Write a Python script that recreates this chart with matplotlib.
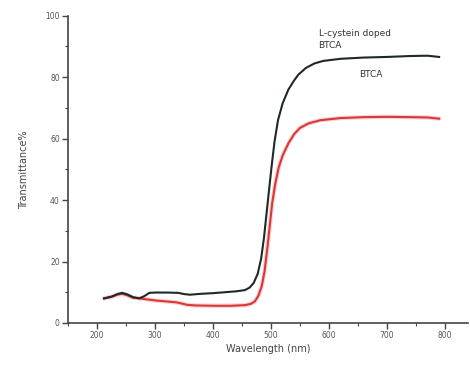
import matplotlib
matplotlib.use("Agg")
import matplotlib.pyplot as plt
from matplotlib.ticker import MultipleLocator

wl_doped = [212, 225, 235, 243, 252, 262, 273, 282, 290, 300, 320, 340, 350, 360, 380, 400, 420, 440, 455, 463, 470, 477, 483, 488, 493, 497, 501, 506, 512, 520, 530, 540, 547, 560, 575, 590, 620, 660, 700, 740, 770, 790]
t_doped = [8.0, 8.6, 9.4, 9.8, 9.3, 8.4, 8.0, 8.8, 9.8, 9.9, 9.9, 9.8, 9.4, 9.2, 9.5, 9.7, 10.0, 10.3, 10.7, 11.5, 13.0, 16.0, 21.0, 28.0, 37.0, 44.0, 51.0, 59.0, 66.0, 71.5, 76.0, 79.0, 80.8, 83.0, 84.5, 85.3, 86.0, 86.4, 86.6, 86.9, 87.0, 86.6]

wl_btca = [212, 225, 235, 243, 252, 262, 273, 285, 302, 320, 337, 347, 355, 370, 400, 430, 455, 465, 472, 478, 484, 489, 494, 498, 502, 507, 513, 520, 530, 540, 550, 565, 585, 620, 660, 700, 740, 770, 790]
t_btca = [8.0, 8.5, 9.2, 9.5, 9.0, 8.2, 8.0, 7.7, 7.3, 7.0, 6.7, 6.3, 5.9, 5.7, 5.6, 5.6, 5.8, 6.2, 7.0, 8.8, 12.0, 17.0, 25.0, 32.0, 39.0, 45.0, 50.5, 54.5, 58.5, 61.5, 63.5, 65.0, 66.0, 66.7, 67.0, 67.1, 67.0, 66.9, 66.5]

xticks = [200, 300, 400, 500, 600, 700, 800]
yticks = [0, 20, 40, 60, 80, 100]

fig = plt.figure(figsize=(4.7, 3.67), dpi=100)
ax = fig.add_axes([0.145, 0.12, 0.851, 0.837])

ax.plot(wl_btca, t_btca, color="#f4b8b8", lw=3.2, alpha=0.6, solid_capstyle="round")
ax.plot(wl_btca, t_btca, color="#d9383a", lw=1.5)
ax.plot(wl_doped, t_doped, color="#1e2a26", lw=1.5)

ax.set_xlim(150, 840)
ax.set_ylim(0, 100)
ax.set_xticks(xticks)
ax.set_yticks(yticks)
ax.xaxis.set_minor_locator(MultipleLocator(50))
ax.yaxis.set_minor_locator(MultipleLocator(10))
ax.tick_params(axis="both", which="major", direction="out", length=4, width=1, labelsize=5.5, colors="#444444", labelcolor="#555555", pad=2)
ax.tick_params(axis="both", which="minor", direction="out", length=2.5, width=0.8, colors="#444444")
for s in ["top", "right"]:
    ax.spines[s].set_visible(False)
for s in ["left", "bottom"]:
    ax.spines[s].set_color("#444444")
    ax.spines[s].set_linewidth(1.2)

ax.set_xlabel("Wavelength (nm)", fontsize=7, color="#444444", labelpad=3)
ax.set_ylabel("Transmittance%", fontsize=7, color="#444444", labelpad=12)

ax.text(582, 89, "L-cystein doped\nBTCA", fontsize=6.5, color="#333333", ha="left", va="bottom", linespacing=1.3)
ax.text(652, 79.5, "BTCA", fontsize=6.5, color="#333333", ha="left", va="bottom")

fig.savefig("out.png", dpi=100)
